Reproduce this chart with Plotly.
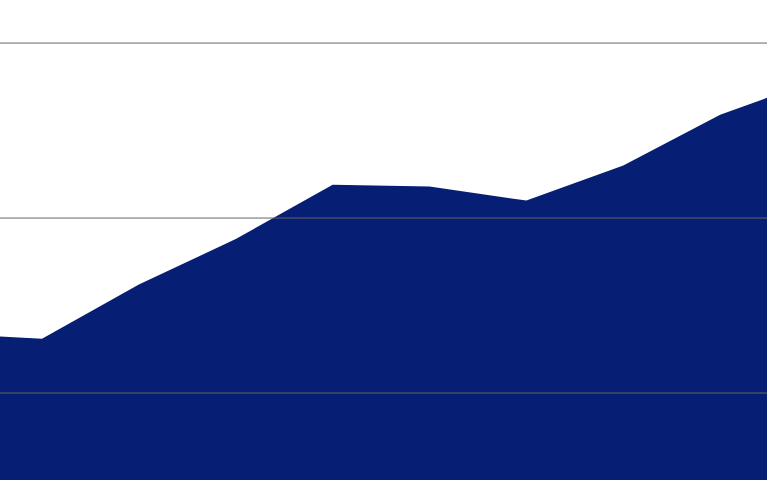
import plotly.graph_objects as go

# values (index 0 and 10 sit just outside the visible window)
periods = list(range(11))
values = [13.4, 13.1, 16.2, 18.8, 21.9, 21.8, 21.0, 23.0, 25.9, 27.9, 29.8]
grid_values = [10, 20, 30]

fig = go.Figure()
fig.add_trace(go.Scatter(
    x=periods[:10], y=values[:10],
    mode='lines',
    fill='tozeroy',
    line=dict(color='#061f75', width=0),
    fillcolor='#061f75',
    hoverinfo='skip',
))

# gridlines sit on top of the filled area in the reference
for g in grid_values:
    fig.add_hline(y=g, line=dict(color='#666666', width=1), layer='above')

fig.update_layout(
    width=767, height=480,
    margin=dict(l=0, r=0, t=0, b=0),
    paper_bgcolor='white',
    plot_bgcolor='white',
    showlegend=False,
    xaxis=dict(range=[0.5664, 8.4835], visible=False, fixedrange=True),
    yaxis=dict(range=[5.03, 32.46], visible=False, showgrid=False, fixedrange=True),
)

# drop the browser's default body margin so the chart fills the window
fig.write_html("out.html", config={'displayModeBar': False},
               post_script="document.body.style.margin='0';")
